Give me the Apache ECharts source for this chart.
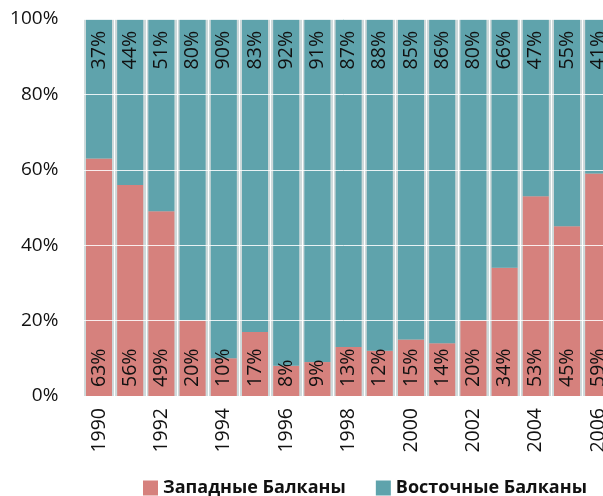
<!DOCTYPE html>
<html>
<head>
<meta charset="utf-8">
<script src="https://cdn.jsdelivr.net/npm/echarts@6/dist/echarts.min.js"></script>
<style>
  html, body { margin: 0; padding: 0; background: #fff; }
  #chart { width: 603px; height: 496px; }
</style>
</head>
<body>
<div id="chart"></div>
<script>
const years = ['1990', '1991', '1992', '1993', '1994', '1995', '1996', '1997', '1998',
  '1999', '2000', '2001', '2002', '2003', '2004', '2005', '2006'];
const western = [63, 56, 49, 20, 10, 17, 8, 9, 13, 12, 15, 14, 20, 34, 53, 45, 59];
const eastern = [37, 44, 51, 80, 90, 83, 92, 91, 87, 88, 85, 86, 80, 66, 47, 55, 41];
const seriesNames = ['Западные Балканы', 'Восточные Балканы'];

const chart = echarts.init(document.getElementById('chart'));
const font = 'Open Sans';

chart.setOption({
  animation: false,
  textStyle: { fontFamily: font },
  grid: {
    left: 83.4,
    width: 530.4,
    top: 19,
    height: 377,
    outerBoundsMode: 'none',
    containLabel: false,
    show: true,
    backgroundColor: '#cfdadb',
    borderWidth: 0,
  },
  legend: {
    data: seriesNames,
    left: 138,
    top: 474,
    itemWidth: 15,
    itemHeight: 15,
    itemGap: 30,
    icon: 'rect',
    textStyle: { fontSize: 18, fontWeight: 'bold', color: '#111', fontFamily: font },
  },
  xAxis: {
    type: 'category',
    data: years,
    axisLine: { show: false },
    axisTick: { show: false },
    axisLabel: {
      interval: 1,
      rotate: 90,
      margin: 12,
      fontSize: 19.5,
      color: '#111',
    },
    splitLine: { show: true, interval: 0, lineStyle: { color: '#fff', width: 1 } },
  },
  yAxis: {
    type: 'value',
    min: 0,
    max: 100,
    interval: 20,
    z: 3,
    axisLine: { show: false },
    axisTick: { show: false },
    axisLabel: {
      formatter: '{value}%',
      margin: 25,
      fontSize: 19,
      color: '#111',
    },
    splitLine: { show: true, lineStyle: { color: 'rgba(255,255,255,0.85)', width: 1 } },
  },
  series: [
    {
      name: seriesNames[0],
      type: 'bar',
      stack: 'total',
      barCategoryGap: '16.5%',
      data: western,
      itemStyle: { color: '#d6817d' },
      label: {
        show: true,
        position: 'insideBottom',
        rotate: 90,
        align: 'left',
        verticalAlign: 'middle',
        distance: 9,
        formatter: '{c}%',
        fontSize: 19.5,
        color: '#111',
      },
    },
    {
      name: seriesNames[1],
      type: 'bar',
      stack: 'total',
      barCategoryGap: '16.5%',
      data: eastern,
      itemStyle: { color: '#5fa3ac' },
      label: {
        show: true,
        position: 'insideTop',
        rotate: 90,
        align: 'right',
        verticalAlign: 'middle',
        distance: 12,
        formatter: '{c}%',
        fontSize: 19.5,
        color: '#111',
      },
    },
  ],
});
</script>
</body>
</html>
